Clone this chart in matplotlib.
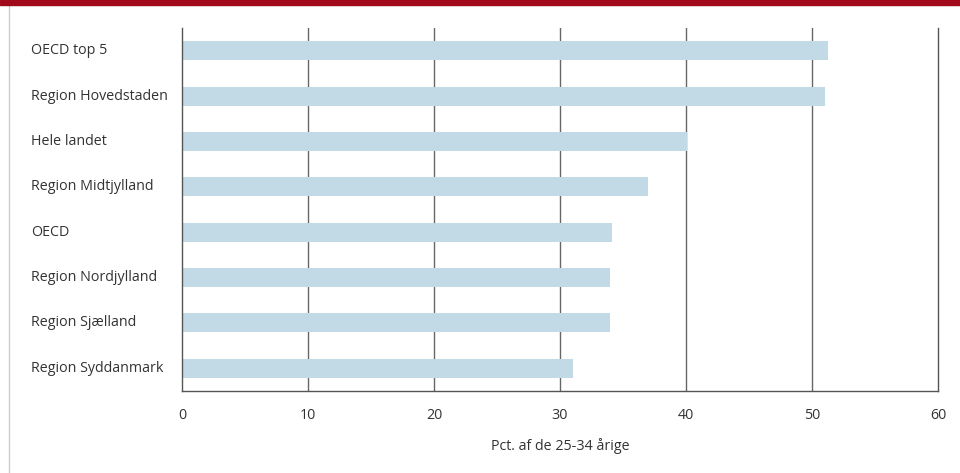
import matplotlib.pyplot as plt
import matplotlib.transforms as mtransforms
from matplotlib.patches import Rectangle
from matplotlib.lines import Line2D

plt.rcParams['font.family'] = ['Open Sans', 'DejaVu Sans']

# data, top to bottom as shown
regions = ["OECD top 5", "Region Hovedstaden", "Hele landet", "Region Midtjylland",
           "OECD", "Region Nordjylland", "Region Sjælland", "Region Syddanmark"]
values = [51.3, 51.0, 40.1, 37.0, 34.1, 34.0, 34.0, 31.0]
xticks = [0, 10, 20, 30, 40, 50, 60]
xlabel = "Pct. af de 25-34 årige"

W, H = 960, 473
fig = plt.figure(figsize=(W / 100, H / 100), dpi=100)
ax = fig.add_axes([182 / W, 1 - 391 / H, (938 - 182) / W, (391 - 28) / H])

pos = list(range(len(regions)))
ax.barh(pos, values, height=0.42, color="#c2dae5", zorder=2)
ax.set_ylim(len(regions) - 0.5, -0.5)
ax.set_xlim(0, 60)

fs = 10.3
ax.set_xticks(xticks)
ax.set_xticklabels([str(t) for t in xticks], fontsize=fs, color="#333333")
ax.tick_params(axis="x", length=0, pad=12)
ax.set_yticks([])
for t in xticks[1:-1]:
    ax.axvline(t, color="#666666", lw=1.0, zorder=1)

ax.spines["top"].set_visible(False)
for s in ["left", "right", "bottom"]:
    ax.spines[s].set_color("#555555")
    ax.spines[s].set_linewidth(1.0)

ax.set_xlabel(xlabel, fontsize=fs, color="#333333", labelpad=11)

# category labels left aligned
trans = mtransforms.blended_transform_factory(fig.transFigure, ax.transData)
for p, name in zip(pos, regions):
    ax.text(31 / W, p, name, transform=trans, ha="left", va="center",
            fontsize=fs, color="#333333")

# red band at top and thin border left
fig.patches.append(Rectangle((0, 1 - 5 / H), 1, 5 / H, transform=fig.transFigure,
                             color="#a00a1a", zorder=5))
fig.lines.append(Line2D([8.5 / W, 8.5 / W], [0, 1 - 5 / H], transform=fig.transFigure,
                        color="#cccccc", lw=1.0))

fig.savefig("out.png", dpi=100)
